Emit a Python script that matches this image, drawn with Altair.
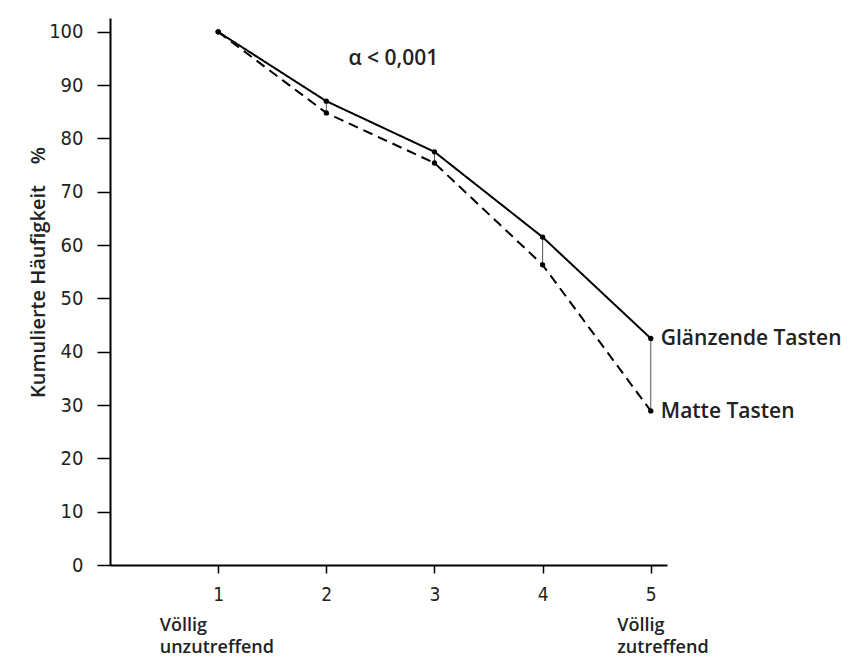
import altair as alt
import pandas as pd

x_vals = [1, 2, 3, 4, 5]
glaenzend = [100, 87, 77.5, 61.5, 42.5]
matt = [100, 84.8, 75.4, 56.3, 28.9]
series_names = ["Glänzende Tasten", "Matte Tasten"]
y_ticks = [0, 10, 20, 30, 40, 50, 60, 70, 80, 90, 100]

rows = []
for i, x in enumerate(x_vals):
    rows.append({"x": x, "y": glaenzend[i], "s": series_names[0]})
    rows.append({"x": x, "y": matt[i], "s": series_names[1]})
df = pd.DataFrame(rows)

conn = pd.DataFrame({"x": x_vals[1:], "y1": glaenzend[1:], "y2": matt[1:]})

xs = alt.Scale(domain=[0, 5.15], nice=False, zero=False)
ys = alt.Scale(domain=[0, 102.6], nice=False)

FONT_NUM = "Liberation Sans Narrow, DejaVu Sans Condensed, Roboto"
FONT_TXT = "Open Sans"
TXT = "#222"

base = alt.Chart(df)

lines = base.mark_line(color="black", strokeWidth=2).encode(
    x=alt.X("x:Q", scale=xs, axis=alt.Axis(
        values=x_vals, format="d", title=None, grid=False, domainColor="black", domainWidth=2,
        tickColor="black", tickSize=8, tickWidth=1.5, labelFont=FONT_NUM, labelFontSize=19,
        labelColor=TXT, labelPadding=12)),
    y=alt.Y("y:Q", scale=ys, axis=alt.Axis(
        values=y_ticks, title="Kumulierte Häufigkeit\u00a0\u00a0\u00a0\u00a0%", grid=False, domainColor="black",
        domainWidth=2, tickColor="black", tickSize=13, tickWidth=1.5, labelFont=FONT_NUM,
        labelFontSize=20, labelColor=TXT, labelPadding=14,
        titleFont=FONT_TXT, titleFontSize=20, titleFontWeight=600, titleColor=TXT,
        titleAngle=-90, titleX=-72, titleY=254, titleAlign="center", titleBaseline="middle")),
    strokeDash=alt.StrokeDash("s:N", scale=alt.Scale(domain=series_names, range=[[1, 0], [10, 6]]), legend=None),
    detail="s:N",
)

points = base.mark_circle(color="black", size=28, opacity=1).encode(
    x=alt.X("x:Q", scale=xs), y=alt.Y("y:Q", scale=ys))

rules = alt.Chart(conn).mark_rule(color="#555", strokeWidth=1).encode(
    x=alt.X("x:Q", scale=xs), y=alt.Y("y1:Q", scale=ys), y2="y2:Q")

end_labels = pd.DataFrame({"x": [5, 5], "y": [glaenzend[-1], matt[-1]], "t": series_names})
end_text = alt.Chart(end_labels).mark_text(align="left", dx=10, dy=1, font=FONT_TXT, fontSize=21,
                                          fontWeight=600, color=TXT).encode(
    x=alt.X("x:Q", scale=xs), y=alt.Y("y:Q", scale=ys), text="t:N")

ann = pd.DataFrame({"x": [2.62], "y": [95], "t": ["α < 0,001"]})
ann_text = alt.Chart(ann).mark_text(align="center", font=FONT_TXT, fontSize=21, fontWeight=600,
                                   color=TXT).encode(
    x=alt.X("x:Q", scale=xs), y=alt.Y("y:Q", scale=ys), text="t:N")

bottom = pd.DataFrame({
    "x": [0.46, 0.46, 4.69, 4.69],
    "y": [-11.4, -15.5, -11.4, -15.5],
    "t": ["Völlig", "unzutreffend", "Völlig", "zutreffend"],
})
bottom_text = alt.Chart(bottom).mark_text(align="left", baseline="middle", font=FONT_TXT, fontSize=18,
                                         fontWeight=600, color=TXT).encode(
    x=alt.X("x:Q", scale=xs), y=alt.Y("y:Q", scale=ys), text="t:N")

chart = alt.layer(rules, lines, points, end_text, ann_text, bottom_text).properties(
    width=557, height=547,
    background="white",
    autosize=alt.AutoSizeParams(type="none"),
    padding={"left": 102, "top": 10, "right": 174, "bottom": 98},
).configure_view(stroke=None)

chart.save("out.html", embed_options={"renderer": "svg", "actions": False})
